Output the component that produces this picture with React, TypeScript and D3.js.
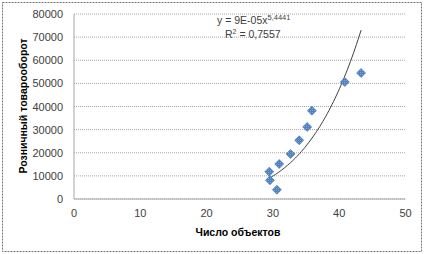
import React from "react";
import * as d3 from "d3";

const xValues = [29.45, 29.55, 30.6, 30.95, 32.66, 33.97, 35.17, 35.88, 40.85, 43.3];
const yValues = [11800, 8080, 4020, 15130, 19460, 25380, 31130, 38200, 50600, 54490];
const xTicks = [0, 10, 20, 30, 40, 50];
const yTicks = [0, 10000, 20000, 30000, 40000, 50000, 60000, 70000, 80000];
const trendA = 9e-5;
const trendB = 5.4441;
const xTitle = "Число объектов";
const yTitle = "Розничный товарооборот";

export default function App() {
  const W = 424, H = 254;
  const x = d3.scaleLinear().domain([0, 50]).range([74, 405.5]);
  const y = d3.scaleLinear().domain([0, 80000]).range([199, 14]);
  const xmin = d3.min(xValues)!, xmax = d3.max(xValues)!;
  const trendPts = d3.range(0, 61).map(i => {
    const xv = xmin + (xmax - xmin) * i / 60;
    return [xv, trendA * Math.pow(xv, trendB)] as [number, number];
  });
  const line = d3.line<[number, number]>().x(d => x(d[0])).y(d => y(d[1]));
  const font = "'Liberation Sans', Arial, sans-serif";
  const s = 4.5;
  return (
    <svg width={W} height={H} style={{ position: "absolute", left: 0, top: 0 }} fontFamily={font}>
      <defs>
        <pattern id="pat" width="2" height="2" patternUnits="userSpaceOnUse">
          <rect width="2" height="2" fill="#4F81BD" />
          <rect width="1" height="1" fill="#7FA6DA" />
        </pattern>
      </defs>
      <rect x={0} y={0} width={W} height={H} fill="#fff" />
      <rect x={2.5} y={2.5} width={W - 5} height={H - 5} fill="none" stroke="#777" strokeDasharray="2,1" />
      {yTicks.map(t => (
        <line key={"g" + t} x1={x(0)} x2={x(50)} y1={y(t)} y2={y(t)} stroke="#a6a6a6" strokeDasharray="1,1" />
      ))}
      <line x1={x(0)} x2={x(0)} y1={y(0)} y2={y(80000)} stroke="#a6a6a6" />
      <line x1={x(0)} x2={x(50)} y1={y(0)} y2={y(0)} stroke="#a6a6a6" />
      {yTicks.map(t => (
        <text key={"y" + t} x={63} y={y(t) + 4} textAnchor="end" fontSize={11} fill="#404040">{t}</text>
      ))}
      {xTicks.map(t => (
        <text key={"x" + t} x={x(t)} y={217} textAnchor="middle" fontSize={11} fill="#404040">{t}</text>
      ))}
      <text x={238} y={236} textAnchor="middle" fontSize={10.5} fontWeight="bold" fill="#000">{xTitle}</text>
      <text transform={`translate(27,${106}) rotate(-90)`} textAnchor="middle" fontSize={10.5} fontWeight="bold" fill="#000">{yTitle}</text>
      <path d={line(trendPts)!} fill="none" stroke="#404040" strokeWidth={1} />
      {xValues.map((xv, i) => (
        <path key={"p" + i}
          d={`M${x(xv)},${y(yValues[i]) - s}L${x(xv) + s},${y(yValues[i])}L${x(xv)},${y(yValues[i]) + s}L${x(xv) - s},${y(yValues[i])}Z`}
          fill="url(#pat)" stroke="#3A6FB5" strokeWidth={0.6} />
      ))}
      <text x={217} y={24} fontSize={10.5} fill="#404040">y = 9E-05x<tspan dy={-4} fontSize={7.5}>5,4441</tspan></text>
      <text x={225} y={38} fontSize={10.5} fill="#404040">R<tspan dy={-4} fontSize={7}>2</tspan><tspan dy={4}> = 0,7557</tspan></text>
    </svg>
  );
}
